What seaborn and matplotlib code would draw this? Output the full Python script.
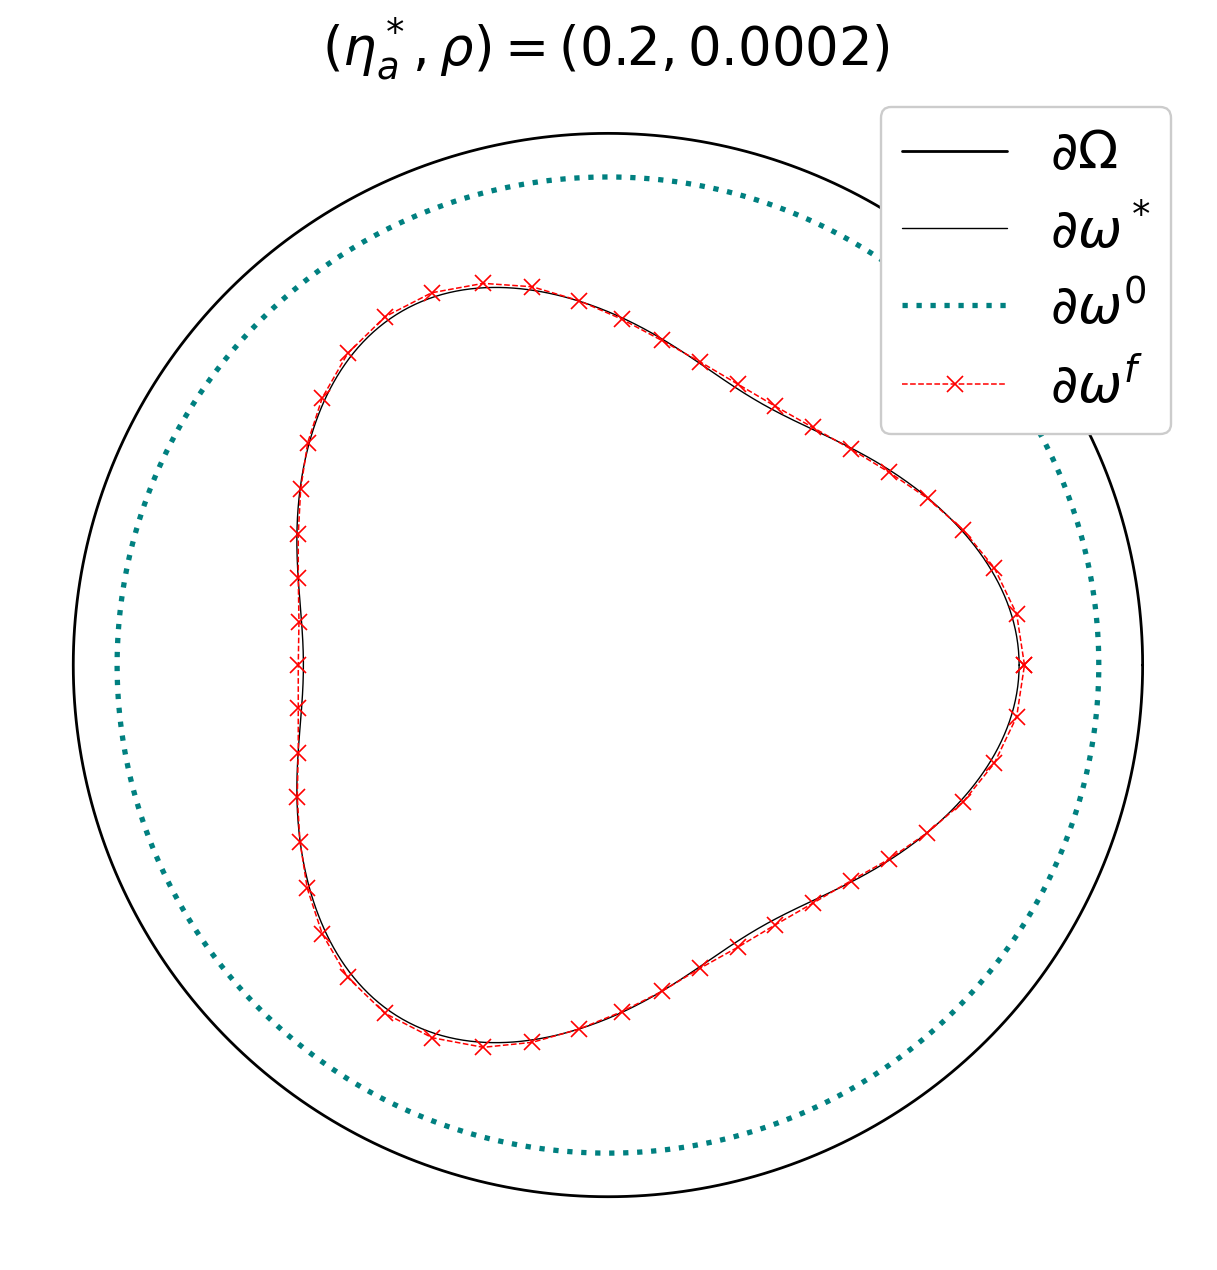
import numpy as np
import pandas as pd
import matplotlib
matplotlib.use('Agg')
import matplotlib.pyplot as plt
import seaborn as sns

# circles: outer domain boundary and the initial guess
OUTER_RADIUS = 1.0
INIT_RADIUS = 0.918

# target inclusion boundary, radius as cosine series r(t) = sum a_k cos(k t)
TARGET_MODES = [0, 3, 6, 9]
TARGET_COEFS = [0.667, 0.0978, 0.0023, 0.0019]

# reconstructed boundary (marker positions)
final_x = [0.7790, 0.7644, 0.7225, 0.6645, 0.5979, 0.5261, 0.4545, 0.3828, 0.3123, 0.2426,
           0.1721, 0.1004, 0.0256, -0.0537, -0.1416, -0.2332, -0.3297, -0.4171, -0.4868, -0.5343,
           -0.5616, -0.5747, -0.5792, -0.5792, -0.5779, -0.5792, -0.5792, -0.5792, -0.5811, -0.5760,
           -0.5624, -0.5343, -0.4868, -0.4171, -0.3286, -0.2332, -0.1416, -0.0537, 0.0256, 0.1004,
           0.1721, 0.2426, 0.3123, 0.3828, 0.4545, 0.5261, 0.5972, 0.6645, 0.7225, 0.7644, 0.7790]
final_y = [0.0000, 0.0959, 0.1830, 0.2539, 0.3135, 0.3624, 0.4062, 0.4471, 0.4871, 0.5285,
           0.5704, 0.6107, 0.6507, 0.6852, 0.7115, 0.7179, 0.7002, 0.6551, 0.5862, 0.5027,
           0.4181, 0.3310, 0.2458, 0.1631, 0.0814, 0.0000, -0.0814, -0.1649, -0.2477, -0.3323,
           -0.4200, -0.5059, -0.5874, -0.6551, -0.7010, -0.7190, -0.7096, -0.6846, -0.6521, -0.6140,
           -0.5704, -0.5309, -0.4890, -0.4482, -0.4057, -0.3649, -0.3154, -0.2571, -0.1849, -0.0972, 0.0000]

title = r'$(\eta_a^*, \rho) = (0.2, 0.0002)$'
labels = [r'$\partial\Omega$', r'$\partial\omega^*$', r'$\partial\omega^0$', r'$\partial\omega^f$']

sns.set_style('white')
plt.rcParams['text.color'] = 'black'

t = np.linspace(0, 2 * np.pi, 721)
r_target = sum(a * np.cos(k * t) for k, a in zip(TARGET_MODES, TARGET_COEFS))

df_outer = pd.DataFrame({'x': OUTER_RADIUS * np.cos(t), 'y': OUTER_RADIUS * np.sin(t)})
df_target = pd.DataFrame({'x': r_target * np.cos(t), 'y': r_target * np.sin(t)})
df_init = pd.DataFrame({'x': INIT_RADIUS * np.cos(t), 'y': INIT_RADIUS * np.sin(t)})
df_final = pd.DataFrame({'x': final_x, 'y': final_y})

fig = plt.figure(figsize=(12.17, 12.70), dpi=100)
ax = fig.add_axes([0.01627, 0.01583, 0.96656, 0.92102])

common = dict(x='x', y='y', sort=False, estimator=None, ax=ax)
sns.lineplot(data=df_outer, color='black', linewidth=2.0, label=labels[0], **common)
sns.lineplot(data=df_target, color='black', linewidth=1.0, label=labels[1], **common)
sns.lineplot(data=df_init, color='teal', linewidth=3.8, linestyle=':', label=labels[2], **common)
sns.lineplot(data=df_final, color='red', linewidth=1.1, linestyle='--', marker='x',
             markersize=12, markeredgewidth=1.2, markeredgecolor='red', label=labels[3], **common)

ax.set_xlim(-1.1, 1.1)
ax.set_ylim(-1.1, 1.1)
ax.set_axis_off()

leg = ax.legend(loc='upper right', bbox_to_anchor=(1171 / 1217, 1 - 107 / 1270),
                bbox_transform=fig.transFigure, borderaxespad=0, fontsize=38,
                labelspacing=0.45, framealpha=1, edgecolor='0.8')
leg.get_frame().set_linewidth(1.7)

fig.text(0.4975, 1 - 65 / 1270, title, ha='center', va='baseline', fontsize=38)

fig.savefig('out.png', dpi=100, facecolor='white')
